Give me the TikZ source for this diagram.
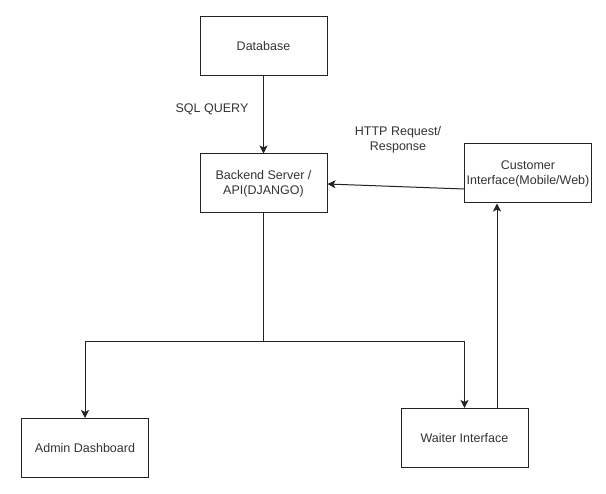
\documentclass[tikz,border=0pt]{standalone}
\usepackage{fontspec}
\setmainfont{Liberation Sans}
\usetikzlibrary{arrows.meta}
\definecolor{ink}{HTML}{222222}
\definecolor{txt}{HTML}{333333}
\begin{document}
\begin{tikzpicture}[x=1pt,y=-1pt,
  box/.style={draw=ink,line width=1pt,minimum width=127pt,minimum height=59pt,inner sep=0pt,
    align=center,text=txt,font=\fontsize{12.5}{15}\selectfont},
  lbl/.style={text=txt,align=center,font=\fontsize{12.5}{15}\selectfont,inner sep=0pt},
  arr/.style={draw=ink,line width=1pt,-{Stealth[length=8pt,width=8pt,inset=2pt]}},
  ln/.style={draw=ink,line width=1pt}]
\useasboundingbox (0,0) rectangle (606,494);
\fill[white] (0,0) rectangle (606,494);
\node[box] (db) at (263.5,46.5) {Database};
\node[box] (be) at (263.5,183.5) {Backend Server /\\API(DJANGO)};
\node[box] (cu) at (528,173.5) {Customer\\Interface(Mobile/Web)};
\node[box] (ad) at (85,448) {Admin Dashboard};
\node[box] (wa) at (464.5,438) {Waiter Interface};
\node[lbl] (sql) at (212,109) {SQL QUERY};
\node[lbl] (http) at (398,140) {HTTP Request/\\Response};
\coordinate (j) at (263.5,342);
\draw[arr] (db) -- (be);
\draw[arr] ([yshift=-15.5pt]cu.west) -- ([yshift=-0.5pt]be.east);
\draw[ln] (be.south) -- (j);
\draw[arr] (j) -| (ad.north);
\draw[arr] (j) -| (wa.north);
\draw[arr] ([xshift=32.5pt]wa.north) -- ([xshift=-31pt]cu.south);
\end{tikzpicture}
\end{document}
